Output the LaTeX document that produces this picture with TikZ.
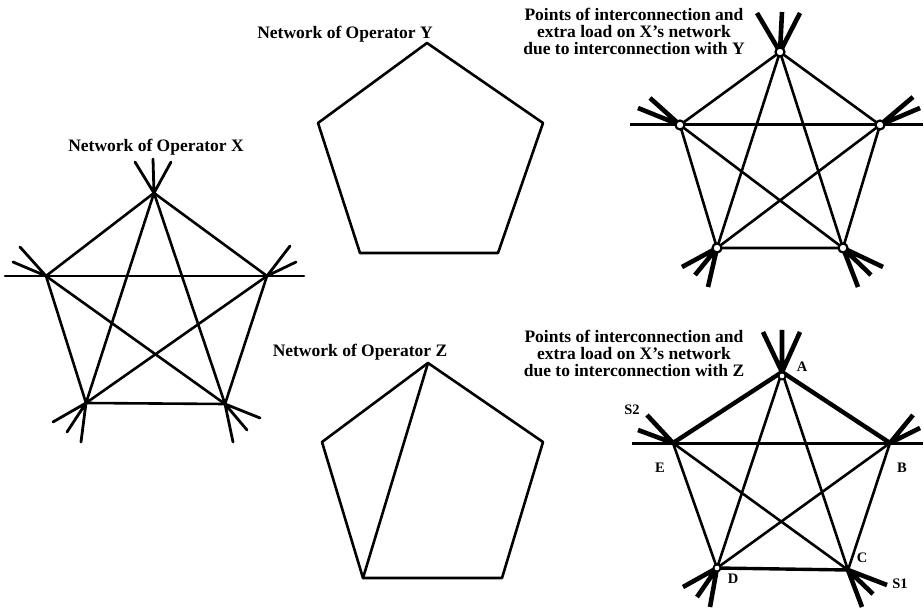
\documentclass[tikz,border=0pt]{standalone}
\usepackage{fontspec}
\setmainfont{Liberation Serif}
\usetikzlibrary{calc}
\begin{document}
\begin{tikzpicture}[x=1pt,y=-1pt,
  ln/.style={line width=2.6pt, line cap=round, line join=round},
  thk/.style={line width=4.4pt, line cap=round, line join=round},
  mid/.style={line width=3.4pt, line cap=round},
  stubx/.style={line width=2.8pt, line cap=round},
  stubt/.style={line width=4.6pt},
  hline/.style={line width=3pt},
  lbl/.style={font=\fontsize{17.5}{17}\selectfont\bfseries, align=center, inner sep=0pt},
  vl/.style={font=\fontsize{14.5}{14.5}\selectfont\bfseries, inner sep=0pt},
  ptc/.style={circle, draw, line width=2.2pt, fill=white, minimum size=9pt, inner sep=0pt}]
\useasboundingbox (0,0) rectangle (924,612);

% ---------------- Network X ----------------
\coordinate (xT) at (154,193);
\coordinate (xL) at (46,276);
\coordinate (xR) at (267,276);
\coordinate (xBL) at (86,403);
\coordinate (xBR) at (225,404);
\coordinate (xHl) at (5,276);
\coordinate (xHr) at (304,276);
\draw[ln] (xT) -- (xR) -- (xBR) -- (xBL) -- (xL) -- cycle;
\draw[ln] (xT) -- (xBL) (xT) -- (xBR) (xL) -- (xBR) (xR) -- (xBL);
\draw[ln] (xHl) -- (xHr);
\coordinate (xT1) at (135,162); \coordinate (xT2) at (153,159); \coordinate (xT3) at (171,162);
\coordinate (xL1) at (20,247); \coordinate (xL2) at (13,262);
\coordinate (xR1) at (290,246); \coordinate (xR2) at (296,262);
\coordinate (xB1) at (53,422); \coordinate (xB2) at (67,432); \coordinate (xB3) at (81,442);
\coordinate (xC1) at (260,418); \coordinate (xC2) at (247,430); \coordinate (xC3) at (233,442);
\draw[stubx] (xT) -- (xT1) (xT) -- (xT2) (xT) -- (xT3);
\draw[stubx] (xL) -- (xL1) (xL) -- (xL2);
\draw[stubx] (xR) -- (xR1) (xR) -- (xR2);
\draw[stubx] (xBL) -- (xB1) (xBL) -- (xB2) (xBL) -- (xB3);
\draw[stubx] (xBR) -- (xC1) (xBR) -- (xC2) (xBR) -- (xC3);
\node[lbl] (labX) at (156,147) {Network of Operator X};

% ---------------- Network Y ----------------
\coordinate (yT) at (427,43);
\coordinate (yL) at (318,123);
\coordinate (yR) at (543,123);
\coordinate (yBL) at (360,253);
\coordinate (yBR) at (498,253);
\draw[ln] (yT) -- (yR) -- (yBR) -- (yBL) -- (yL) -- cycle;
\node[lbl] (labY) at (345,34) {Network of Operator Y};

% ---------------- Network Z ----------------
\coordinate (zT) at (428,363);
\coordinate (zL) at (322,442);
\coordinate (zR) at (543,442);
\coordinate (zBL) at (363,578);
\coordinate (zBR) at (502,578);
\draw[ln] (zT) -- (zR) -- (zBR) -- (zBL) -- (zL) -- cycle;
\draw[ln] (zT) -- (zBL);
\node[lbl] (labZ) at (360,352) {Network of Operator Z};

% ---------------- Interconnection with Y ----------------
\coordinate (pT) at (780,52);
\coordinate (pL) at (680,125);
\coordinate (pR) at (880,125);
\coordinate (pBL) at (717,248);
\coordinate (pBR) at (843,248);
\coordinate (pHl) at (630,125);
\coordinate (pHr) at (923,125);
\draw[ln] (pT) -- (pR) -- (pBR) -- (pBL) -- (pL) -- cycle;
\draw[ln] (pT) -- (pBL) (pT) -- (pBR) (pL) -- (pBR) (pR) -- (pBL);
\draw[hline] (pHl) -- (pHr);
\coordinate (pT1) at (757,13); \coordinate (pT2) at (782,12); \coordinate (pT3) at (800,13);
\coordinate (pL1) at (650,98); \coordinate (pL2) at (638,108);
\coordinate (pR1) at (913,97); \coordinate (pR2) at (920,108);
\coordinate (pB1) at (682,267); \coordinate (pB2) at (695,275); \coordinate (pB3) at (708,287);
\coordinate (pC1) at (883,267); \coordinate (pC2) at (871,275); \coordinate (pC3) at (858,287);
\draw[stubt] (pT) -- (pT1) (pT) -- (pT2) (pT) -- (pT3);
\draw[stubt] (pL) -- (pL1) (pL) -- (pL2);
\draw[stubt] (pR) -- (pR1) (pR) -- (pR2);
\draw[stubt] (pBL) -- (pB1) (pBL) -- (pB2) (pBL) -- (pB3);
\draw[stubt] (pBR) -- (pC1) (pBR) -- (pC2) (pBR) -- (pC3);
\node[ptc] (cT) at (pT) {};
\node[ptc] (cL) at (pL) {};
\node[ptc] (cR) at (pR) {};
\node[ptc] (cBL) at (pBL) {};
\node[ptc] (cBR) at (pBR) {};
\node[lbl] (labPY) at (634,31) {Points of interconnection and\\extra load on X's network\\due to interconnection with Y};

% ---------------- Interconnection with Z ----------------
\coordinate (A) at (782,372);
\coordinate (E) at (673,443);
\coordinate (B) at (890,443);
\coordinate (D) at (717,568);
\coordinate (C) at (848,570);
\coordinate (qHl) at (632,443);
\coordinate (qHr) at (923,443);
\draw[ln] (B) -- (C) (D) -- (E);
\draw[mid] (C) -- (D);
\draw[thk] (E) -- (A) -- (B);
\draw[ln] (A) -- (D) (A) -- (C) (E) -- (C) (B) -- (D);
\draw[hline] (qHl) -- (qHr);
\coordinate (A1) at (763,332); \coordinate (A2) at (782,330); \coordinate (A3) at (800,332);
\coordinate (S2p) at (647,415); \coordinate (E2) at (638,430);
\coordinate (B1) at (913,415); \coordinate (B2) at (920,428);
\coordinate (D1) at (683,587); \coordinate (D2) at (697,597); \coordinate (D3) at (710,607);
\coordinate (S1p) at (887,585); \coordinate (C2) at (873,594); \coordinate (C3) at (862,607);
\draw[stubt] (A) -- (A1) (A) -- (A2) (A) -- (A3);
\draw[stubt] (E) -- (S2p) (E) -- (E2);
\draw[stubt] (B) -- (B1) (B) -- (B2);
\draw[stubt] (D) -- (D1) (D) -- (D2) (D) -- (D3);
\draw[stubt] (C) -- (S1p) (C) -- (C2) (C) -- (C3);
\node[ptc, minimum size=7pt, line width=1.8pt] (cA) at ($(A)+(0,4)$) {};
\node[ptc, minimum size=7pt, line width=1.8pt] (cD) at (D) {};
\node[vl] (lA) at (802,367) {A};
\node[vl] (lB) at (902,468) {B};
\node[vl] (lC) at (862,558) {C};
\node[vl] (lD) at (733,579) {D};
\node[vl] (lE) at (660,468) {E};
\node[vl] (lS1) at (900,584) {S1};
\node[vl] (lS2) at (632,410) {S2};
\node[lbl] (labPZ) at (634,353) {Points of interconnection and\\extra load on X's network\\due to interconnection with Z};
\end{tikzpicture}
\end{document}
